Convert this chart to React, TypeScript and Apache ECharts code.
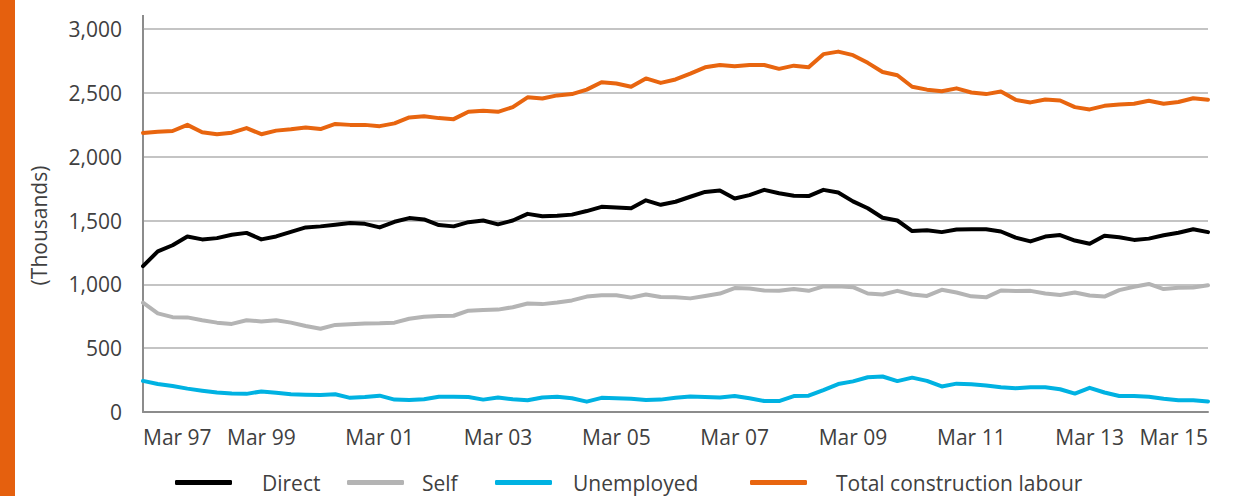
import React, { useEffect, useRef } from "react";
import * as echarts from "echarts";

const years = ["97","98","99","00","01","02","03","04","05","06","07","08","09","10","11","12","13","14","15"];
const months = ["Mar", "Jun", "Sep", "Dec"];
const categories: string[] = [];
years.forEach((y, yi) => {
  months.forEach((m) => {
    if (yi === years.length - 1 && m !== "Mar") return;
    categories.push(`${m} ${y}`);
  });
});

const yTicks = [0, 500, 1000, 1500, 2000, 2500, 3000];

const direct = [1143,1258,1306,1375,1352,1362,1388,1403,1352,1375,1411,1446,1454,1467,1480,1474,1446,1490,1519,1508,1464,1454,1487,1500,1470,
  1500,1552,1533,1538,1546,1574,1607,1601,1596,1658,1623,1647,1686,1724,1735,1672,1699,1740,1713,1694,1691,1740,1719,1650,
  1596,1522,1500,1417,1424,1409,1429,1432,1432,1414,1366,1336,1374,1386,1343,1318,1381,1369,1348,1358,1384,1404,1432,1409];

const self = [856,773,743,741,719,700,690,719,709,719,700,674,652,682,687,693,695,700,730,746,751,754,794,799,802,
  821,850,845,858,874,904,914,914,896,920,901,898,890,909,928,971,968,952,949,963,949,984,984,978,
  928,920,949,920,909,957,936,906,898,952,947,949,928,917,936,912,904,955,981,1003,963,973,976,992];

const unemployed = [244,219,203,183,167,153,144,142,161,150,139,136,133,139,111,117,128,97,94,100,119,119,117,97,113,
  100,92,114,119,108,81,111,108,103,94,97,111,122,117,114,125,108,86,86,125,128,172,219,240,
  272,278,242,269,244,200,222,217,208,194,186,194,194,178,144,189,153,125,125,119,103,92,92,83];

const total = [2186,2196,2201,2249,2191,2176,2188,2224,2176,2204,2214,2229,2216,2256,2249,2249,2239,2261,2307,2317,2302,2294,2352,2359,2351,
  2388,2465,2455,2480,2490,2525,2583,2573,2548,2613,2578,2605,2650,2700,2718,2708,2718,2718,2688,2713,2700,2803,2823,2795,
  2735,2663,2638,2548,2525,2513,2535,2503,2490,2510,2445,2425,2448,2440,2388,2370,2398,2408,2415,2438,2415,2428,2458,2445];

const seriesNames = ["Direct", "Self", "Unemployed", "Total construction labour"];
const seriesColors = ["#000000", "#b4b4b4", "#00b2e2", "#e8650f"];
const seriesData = [direct, self, unemployed, total];

const FONT = "'Open Sans', sans-serif";
const TEXT = "#404040";

export default function App() {
  const ref = useRef<HTMLDivElement>(null);
  useEffect(() => {
    if (!ref.current) return;
    const chart = echarts.init(ref.current, undefined, { renderer: "svg" });
    const legendLefts = [175, 347, 495, 750];
    const legendPads = [25, 13, 16, 24];
    chart.setOption({
      animation: false,
      backgroundColor: "#ffffff",
      textStyle: { fontFamily: FONT },
      grid: { left: 143, right: 40, top: 29, bottom: 84, containLabel: false },
      graphic: [
        { type: "rect", left: 0, top: 0, shape: { x: 0, y: 0, width: 15, height: 496 }, style: { fill: "#e5600e" }, silent: true },
        { type: "line", shape: { x1: 143, y1: 15, x2: 143, y2: 30 }, style: { stroke: "#8c8c8c", lineWidth: 2 }, silent: true },
      ],
      legend: seriesNames.map((n, i) => ({
        data: [n],
        left: legendLefts[i],
        top: 472,
        padding: 0,
        itemWidth: 57,
        itemHeight: 5,
        icon: "roundRect",
        formatter: (name: string) => `{s|}{t|${name}}`,
        textStyle: {
          color: TEXT,
          fontFamily: FONT,
          fontSize: 21,
          rich: {
            s: { width: legendPads[i], height: 22 },
            t: { fontSize: 21, color: TEXT, fontFamily: FONT, height: 22 },
          },
        },
        selectedMode: false,
      })),
      xAxis: {
        type: "category",
        data: categories,
        boundaryGap: false,
        axisLine: { lineStyle: { color: "#8c8c8c", width: 2 } },
        axisTick: { show: false },
        axisLabel: {
          interval: 7,
          fontSize: 21,
          color: TEXT,
          fontFamily: FONT,
          margin: 14,
          alignMinLabel: "left",
          alignMaxLabel: "right",
        },
        splitLine: { show: false },
      },
      yAxis: {
        type: "value",
        min: yTicks[0],
        max: yTicks[yTicks.length - 1],
        interval: 500,
        name: "(Thousands)",
        nameLocation: "middle",
        nameRotate: 90,
        nameGap: 94,
        nameTextStyle: { fontSize: 21, color: TEXT, fontFamily: FONT, padding: [0, 10, 0, 0] },
        axisLine: { show: true, lineStyle: { color: "#8c8c8c", width: 2 } },
        axisTick: { show: false },
        axisLabel: {
          fontSize: 21,
          color: TEXT,
          fontFamily: FONT,
          margin: 21,
          formatter: (v: number) => v.toLocaleString("en-US"),
        },
        splitLine: { lineStyle: { color: "#b0b0b0", width: 1.5 } },
      },
      series: seriesNames.map((n, i) => ({
        name: n,
        type: "line",
        data: seriesData[i],
        showSymbol: false,
        symbol: "none",
        lineStyle: { color: seriesColors[i], width: 4, join: "round", cap: "round" },
        itemStyle: { color: seriesColors[i] },
      })),
    });
    return () => chart.dispose();
  }, []);
  return <div ref={ref} style={{ position: "absolute", left: 0, top: 0, width: 1248, height: 496 }} />;
}
